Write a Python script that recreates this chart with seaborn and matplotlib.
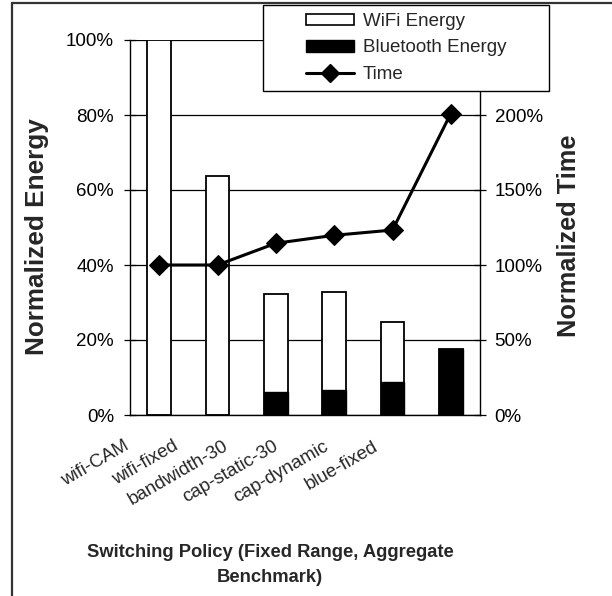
import numpy as np
import matplotlib
matplotlib.use("Agg")
import matplotlib.pyplot as plt
import matplotlib.transforms as mtransforms
from matplotlib.patches import Patch, Rectangle
from matplotlib.lines import Line2D
import seaborn as sns

# values
policies = ["wifi-CAM", "wifi-fixed", "bandwidth-30", "cap-static-30", "cap-dynamic", "blue-fixed"]
wifi_energy = [100.0, 63.7, 26.1, 25.9, 16.1, 0.0]
bluetooth_energy = [0.0, 0.0, 6.1, 6.8, 8.7, 17.6]
norm_time = [100.0, 100.0, 114.5, 119.8, 123.3, 201.0]
energy_ticks = [0, 20, 40, 60, 80, 100]
time_ticks = [0, 50, 100, 150, 200, 250]

sns.set_style("white")
plt.rcParams["font.family"] = ["Liberation Sans", "DejaVu Sans"]

fig = plt.figure(figsize=(6.12, 5.96), dpi=100)
ax = fig.add_axes([130 / 612, 1 - 415 / 596, 350 / 612, 375 / 596])

total = [w + b for w, b in zip(wifi_energy, bluetooth_energy)]
# white bar = whole stack, black bar = bluetooth part at the bottom
sns.barplot(x=policies, y=total, color="white", edgecolor="black", linewidth=1.3,
            width=0.41, saturation=1, ax=ax, zorder=2)
sns.barplot(x=policies, y=bluetooth_energy, color="black", edgecolor="black", linewidth=1.0,
            width=0.41, saturation=1, ax=ax, zorder=3)

ax.set_ylim(0, 100)
ax.set_xlim(-0.5, len(policies) - 0.5)
ax.set_yticks(energy_ticks)
ax.set_yticklabels(["%d%%" % v for v in energy_ticks], fontsize=13.5)
for v in energy_ticks:
    ax.axhline(v, color="black", lw=0.9, zorder=1)

for s in ["top", "right"]:
    ax.spines[s].set_visible(False)
for s in ["left", "bottom"]:
    ax.spines[s].set_color("black")
    ax.spines[s].set_linewidth(1.0)

ax.tick_params(axis="y", direction="inout", length=9, width=0.9, pad=7, colors="black")
ax.set_xticks(np.arange(len(policies)))
ax.set_xticks(np.arange(len(policies) + 1) - 0.5, minor=True)
ax.tick_params(axis="x", which="major", length=0, pad=2)
ax.tick_params(axis="x", which="minor", direction="out", length=5, width=0.9, colors="black")
ax.set_xticklabels(policies, rotation=30, ha="right", rotation_mode="anchor", fontsize=13.5)
# Excel squeezes the rotated labels together a bit
for i, lab in enumerate(ax.get_xticklabels()):
    dx = (-36 - 8.4 * i) / 100
    lab.set_transform(lab.get_transform() + mtransforms.ScaledTranslation(dx, -0.2, fig.dpi_scale_trans))
ax.set_xlabel("")
ax.set_ylabel("")

ax2 = ax.twinx()
sns.lineplot(x=np.arange(len(policies)), y=norm_time, color="black", linewidth=2.2,
             marker="D", markersize=10, markeredgecolor="black", ax=ax2, sort=False, zorder=5)
ax2.set_ylim(0, 250)
ax2.set_yticks(time_ticks)
# the 250% label sits under the legend box
ax2.set_yticklabels(["%d%%" % v if v < 250 else "" for v in time_ticks], fontsize=13.5)
ax2.tick_params(axis="y", direction="inout", length=9, width=0.9, pad=6, colors="black")
for s in ["top", "left", "bottom"]:
    ax2.spines[s].set_visible(False)
ax2.spines["right"].set_color("black")
ax2.spines["right"].set_linewidth(1.0)
ax2.set_ylabel("")

fig.text(37 / 612, 1 - 237 / 596, "Normalized Energy", rotation=90, ha="center", va="center",
         fontsize=18.8, fontweight="bold")
fig.text(569 / 612, 1 - 236 / 596, "Normalized Time", rotation=90, ha="center", va="center",
         fontsize=18.3, fontweight="bold")
fig.text(270 / 612, 1 - 565 / 596, "Switching Policy (Fixed Range, Aggregate\nBenchmark)",
         ha="center", va="center", fontsize=13.2, fontweight="bold", linespacing=1.6)

# legend box
lx0, ly0, lw, lh = 263 / 612, 1 - 91 / 596, 286 / 612, 86 / 596
fig.patches.append(Rectangle((lx0, ly0), lw, lh, transform=fig.transFigure, facecolor="white",
                             edgecolor="black", linewidth=1.0, zorder=4))
handles = [Patch(facecolor="white", edgecolor="black", linewidth=1.2),
           Patch(facecolor="black", edgecolor="black"),
           Line2D([], [], color="black", linewidth=2.2, marker="D", markersize=9)]
leg = fig.legend(handles, ["WiFi Energy", "Bluetooth Energy", "Time"], loc="center",
                 bbox_to_anchor=(lx0, ly0, lw, lh), bbox_transform=fig.transFigure,
                 frameon=False, fontsize=13.5, handlelength=2.6, handleheight=0.6,
                 handletextpad=0.45, labelspacing=0.5, borderpad=0.2)
leg.set_zorder(6)

# outer frame of the picture (left and top edges)
fig.add_artist(Line2D([12 / 612, 12 / 612], [0, 1 - 3 / 596], transform=fig.transFigure,
                      color="#333333", linewidth=1.6))
fig.add_artist(Line2D([12 / 612, 1], [1 - 3 / 596, 1 - 3 / 596], transform=fig.transFigure,
                      color="#333333", linewidth=1.6))

fig.savefig("out.png", dpi=100)
